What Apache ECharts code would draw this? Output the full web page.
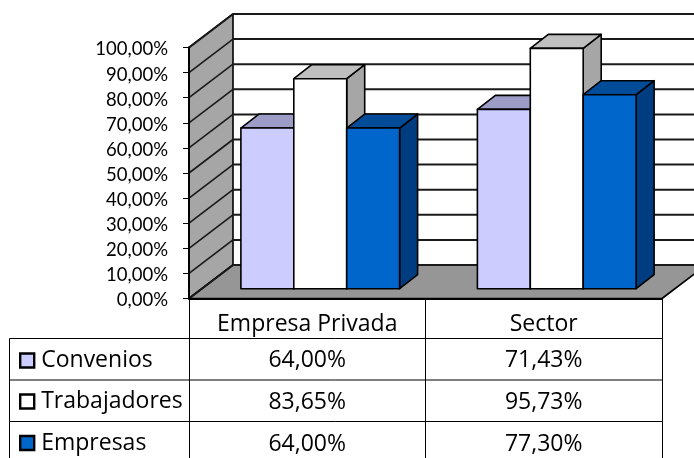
<!DOCTYPE html>
<html>
<head>
<meta charset="utf-8">
<style>html,body{margin:0;padding:0;background:#fff}#c{width:694px;height:458px}</style>
<script src="https://cdn.jsdelivr.net/npm/echarts@6/dist/echarts.min.js"></script>
</head>
<body>
<div id="c"></div>
<script>
var categories = ['Empresa Privada', 'Sector'];
var convenios = [64.00, 71.43];
var trabajadores = [83.65, 95.73];
var empresas = [64.00, 77.30];
var valueTicks = [0, 10, 20, 30, 40, 50, 60, 70, 80, 90, 100];
var seriesNames = ['Convenios', 'Trabajadores', 'Empresas'];

var WALL = {dx: 44, dy: -33.5};
var SHIFT = {dx: 13, dy: -9.8};
var DEPTH = {dx: 18, dy: -14};
var BAR_FRACTION = 0.2237;
var FONT_AXIS = 'Lato';
var FONT_TABLE = 'Open Sans';
var EDGE = {stroke: '#000', lineWidth: 1.6, lineJoin: 'round'};
var palette = [
  {front: '#CCCCFF', top: '#9C9CC6', side: '#8080A8'},
  {front: '#FFFFFF', top: '#BFBFBF', side: '#A6A6A6'},
  {front: '#0066CC', top: '#004C99', side: '#003D80'}
];

function fmt(v) { return v.toFixed(2).replace('.', ',') + '%'; }
function poly(pts, fill, style) {
  return {type: 'polygon', shape: {points: pts}, style: Object.assign({fill: fill}, style || EDGE)};
}
function ln(x1, y1, x2, y2, w, c) {
  return {type: 'line', shape: {x1: x1, y1: y1, x2: x2, y2: y2}, style: {stroke: c || '#1a1a1a', lineWidth: w}};
}

function renderWall(params, api) {
  var v = api.value(1);
  var cs = params.coordSys;
  var p = api.coord([0, v]);
  var left = cs.x, right = cs.x + cs.width, y = p[1];
  var children = [];
  if (v === 0) {
    var y100 = api.coord([0, 100])[1];
    var bx = left + WALL.dx, by = WALL.dy;
    children.push(poly([[bx, y100 + by], [right + WALL.dx, y100 + by], [right + WALL.dx, y + by], [bx, y + by]], '#FFFFFF', {stroke: 'none'}));
    children.push(poly([[left, y100], [bx, y100 + by], [bx, y + by], [left, y]], '#A6A6A6'));
    children.push(poly([[left, y], [bx, y + by], [right + WALL.dx, y + by], [right, y]], '#969696'));
  }
  children.push(ln(left, y, left + WALL.dx, y + WALL.dy, 1.6));
  children.push(ln(left + WALL.dx, y + WALL.dy, right + WALL.dx, y + WALL.dy, 2));
  return {type: 'group', children: children};
}

function makeBarRender(idx) {
  return function (params, api) {
    var base = api.coord([api.value(0), 0]);
    var topPt = api.coord([api.value(0), api.value(1)]);
    var band = api.size([1, 0])[0];
    var w = band * BAR_FRACTION;
    var x0 = base[0] + (idx - 1.5) * w + SHIFT.dx;
    var x1 = x0 + w;
    var yb = base[1] + SHIFT.dy;
    var yt = topPt[1] + SHIFT.dy;
    var c = palette[idx];
    var dx = DEPTH.dx, dy = DEPTH.dy;
    return {type: 'group', children: [
      poly([[x1, yt], [x1 + dx, yt + dy], [x1 + dx, yb + dy], [x1, yb]], c.side),
      poly([[x0, yt], [x0 + dx, yt + dy], [x1 + dx, yt + dy], [x1, yt]], c.top),
      poly([[x0, yt], [x1, yt], [x1, yb], [x0, yb]], c.front)
    ]};
  };
}

var rowLines = [338.5, 380, 421.5];
var rowText = [360, 402, 444];
var legendTop = [349, 390, 431.5];
function renderTable(params, api) {
  var col = api.value(0), row = api.value(2), val = api.value(1);
  var p = api.coord([col, 0]);
  var children = [{
    type: 'text',
    style: {x: p[0], y: rowText[row], text: fmt(val), fill: '#000', font: '23px "' + FONT_TABLE + '"', align: 'center', verticalAlign: 'middle'}
  }];
  if (params.dataIndex === 0) {
    var right = params.coordSys.x + params.coordSys.width;
    rowLines.forEach(function (y) { children.push(ln(9.5, y, right, y, 1, '#000')); });
    children.push(ln(9.5, rowLines[0], 9.5, 458, 1, '#000'));
  }
  return {type: 'group', children: children};
}

var rows = [convenios, trabajadores, empresas];
var tableData = [];
rows.forEach(function (r, ri) { r.forEach(function (v, ci) { tableData.push([ci, v, ri]); }); });

var barSeries = rows.map(function (r, i) {
  return {
    name: seriesNames[i], type: 'custom', renderItem: makeBarRender(i), z: 3 + i,
    clip: false, silent: true,
    itemStyle: {color: palette[i].front, borderColor: '#000', borderWidth: 2},
    data: r.map(function (v, ci) { return [ci, v]; })
  };
});

var chart = echarts.init(document.getElementById('c'), null, {renderer: 'canvas'});
chart.setOption({
  animation: false,
  backgroundColor: '#fff',
  grid: {left: 189, top: 47.5, width: 473, height: 251, containLabel: false},
  legend: seriesNames.map(function (name, i) {
    return {
      orient: 'vertical', left: 19, top: legendTop[i], padding: 0,
      itemWidth: 14, itemHeight: 14,
      icon: 'rect', selectedMode: false, data: [name], z: 10,
      textStyle: {fontFamily: FONT_TABLE, fontSize: 23, lineHeight: 14, color: '#000', padding: [0, 0, 3, 2]},
      itemStyle: {borderColor: '#000', borderWidth: 2.4}
    };
  }),
  xAxis: {
    type: 'category', data: categories, z: 8,
    axisLine: {lineStyle: {color: '#000', width: 2}},
    axisTick: {show: true, length: 160, lineStyle: {color: '#000', width: 1}},
    axisLabel: {margin: 14, fontFamily: FONT_TABLE, fontSize: 23, color: '#000', hideOverlap: false}
  },
  yAxis: {
    type: 'value', min: 0, max: 100, interval: 10, z: 8,
    splitLine: {show: false},
    axisLine: {show: true, lineStyle: {color: '#000', width: 2}},
    axisTick: {show: true, length: 6, lineStyle: {color: '#000', width: 1}},
    axisLabel: {margin: 21, verticalAlign: 'top', lineHeight: 4, fontFamily: FONT_AXIS, fontSize: 18.5, color: '#000', formatter: function (v) { return fmt(v); }}
  },
  series: [
    {type: 'custom', name: 'walls', renderItem: renderWall, z: 1, clip: false, silent: true,
     data: valueTicks.map(function (v) { return [0, v]; })}
  ].concat(barSeries).concat([
    {type: 'custom', name: 'table', renderItem: renderTable, z: 9, clip: false, silent: true, data: tableData}
  ])
});
</script>
</body>
</html>
